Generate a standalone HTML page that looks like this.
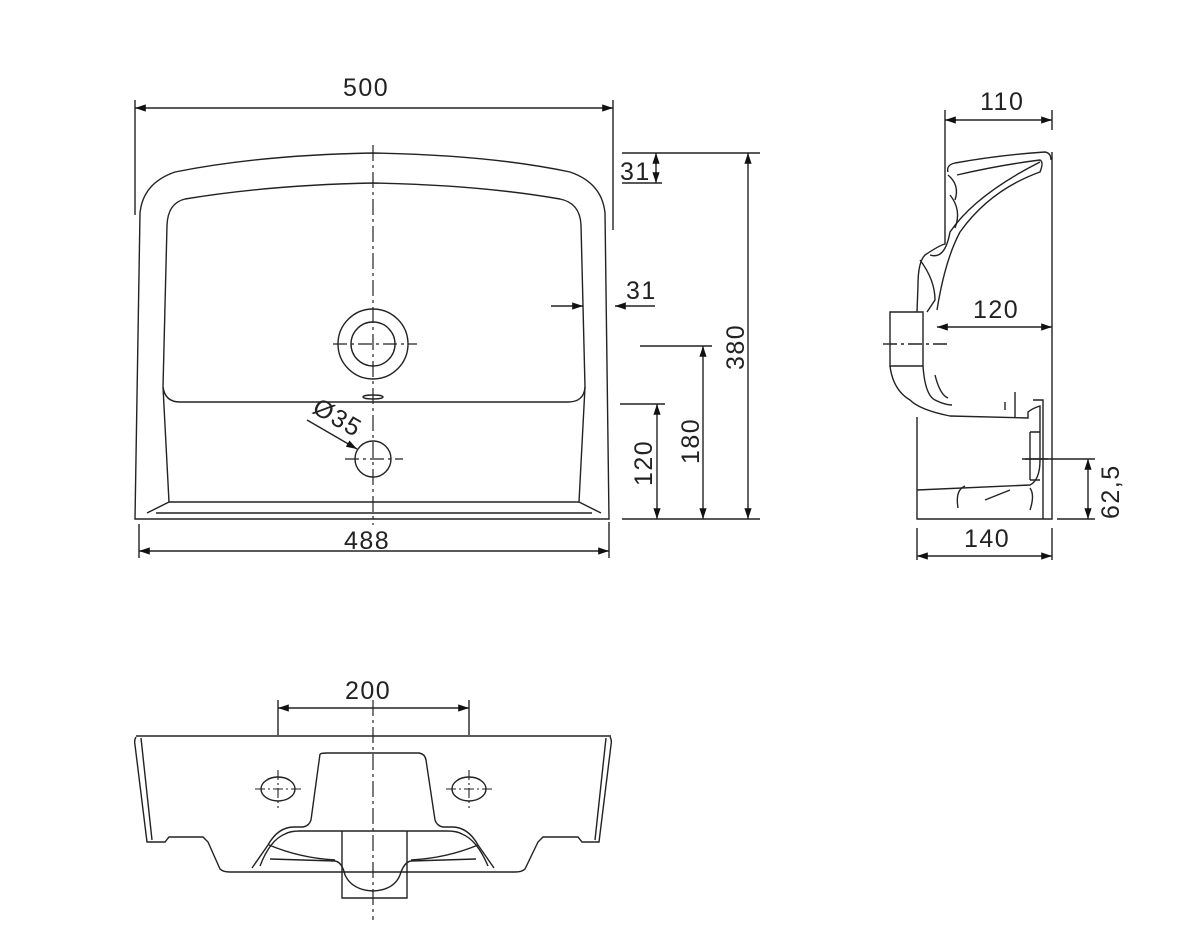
<!DOCTYPE html>
<html><head><meta charset="utf-8"><style>
html,body{margin:0;padding:0;background:#fff;}
svg{display:block;}
text{font-family:"Liberation Sans",sans-serif;font-size:25px;fill:#222;letter-spacing:1.5px;}
</style></head><body>
<svg width="1200" height="944" viewBox="0 0 1200 944" xmlns="http://www.w3.org/2000/svg">
<defs>
<marker id="a" viewBox="0 0 12 10" refX="12" refY="5" markerWidth="12" markerHeight="9" orient="auto-start-reverse" markerUnits="userSpaceOnUse"><path d="M0,1 L12,5 L0,9 Z" fill="#111"/></marker>
</defs>
<g fill="none" stroke="#222" stroke-width="1.4">
<!-- FRONT VIEW -->
<path d="M135,519 L140,213 Q143,183 175,172 Q260,155 373,153 Q490,155 570,172 Q602,183 605,213 L609,519 Z"/>
<path d="M163,387 L167,225 Q168,203 185,199 Q270,185 373,183 Q480,185 560,199 Q580,203 581,225 L585,387 Q584,402 568,402 L180,402 Q165,402 163,387"/>
<path d="M163,387 L169,502 L579,502 L585,387"/>
<path d="M147,513 L169,502 M601,513 L579,502 M156,513 L592,513"/>
<circle cx="373" cy="344" r="35"/>
<circle cx="373" cy="344" r="22"/>
<ellipse cx="373" cy="397" rx="10" ry="2"/>
<circle cx="373" cy="459" r="18"/>
<path d="M373,145 L373,525" stroke-dasharray="16,4,3,4" stroke-width="1.2"/>
<path d="M333,344 L417,344 M345,459 L403,459" stroke-dasharray="14,4,3,4" stroke-width="1.2"/>
<path d="M307,420 L357,449" marker-end="url(#a)"/>
<!-- dims front -->
<path d="M135,100 L135,215 M613,100 L613,230"/>
<path d="M135,108 L613,108" marker-start="url(#a)" marker-end="url(#a)"/>
<path d="M139,524 L139,558 M609,522 L609,558"/>
<path d="M139,551 L609,551" marker-start="url(#a)" marker-end="url(#a)"/>
<path d="M622,153 L760,153 M622,519 L760,519 M622,183 L662,183 M640,346 L712,346 M620,404 L665,404"/>
<path d="M656,153 L656,183" marker-start="url(#a)" marker-end="url(#a)"/>
<path d="M748,153 L748,519" marker-start="url(#a)" marker-end="url(#a)"/>
<path d="M703,346 L703,519" marker-start="url(#a)" marker-end="url(#a)"/>
<path d="M657,404 L657,519" marker-start="url(#a)" marker-end="url(#a)"/>
<path d="M551,306 L583,306" marker-end="url(#a)"/>
<path d="M655,306 L615,306" marker-end="url(#a)"/>
<!-- SIDE VIEW -->
<path d="M945,110 L945,230 M1052,110 L1052,130"/>
<path d="M945,120 L1052,120" marker-start="url(#a)" marker-end="url(#a)"/>
<path d="M1052,152 L1052,519 L917,519 L917,417"/>
<path d="M917,528 L917,560 M1052,528 L1052,560"/>
<path d="M917,556 L1052,556" marker-start="url(#a)" marker-end="url(#a)"/>
<path d="M937,327 L1052,327" marker-start="url(#a)" marker-end="url(#a)"/>
<path d="M1025,459 L1095,459 M1057,519 L1095,519"/>
<path d="M1088,459 L1088,519" marker-start="url(#a)" marker-end="url(#a)"/>
<path d="M948,172 Q946,165 955,163 Q1000,155 1045,152 Q1051,153 1051,160"/>
<path d="M957,175 Q1000,165 1040,160 Q1044,162 1040,172 Q990,190 960,232 Q945,260 937,310"/>
<path d="M948,175 Q960,185 955,200 M950,195 Q962,210 955,228"/>
<path d="M945,230 L945,244 Q940,245 925,255 Q918,262 918,285 L917,312"/>
<path d="M930,255 Q945,260 950,232 Q975,195 1040,162"/>
<path d="M920,260 Q935,280 935,300 L927,312"/>
<path d="M890,312 L923,312 L923,366 L890,366 Z"/>
<path d="M883,344 L947,344" stroke-dasharray="14,4,3,4"/>
<path d="M890,366 Q893,390 910,400 Q920,410 950,416 L1028,418 L1028,412 Q1033,408 1040,406 L1040,460 Q1040,480 1030,485 L917,490"/>
<path d="M923,366 Q925,395 935,400 Q945,405 952,405 M935,375 Q940,395 948,398"/>
<path d="M1033,400 L1043,400 L1043,519"/>
<path d="M1015,392 L1015,418 M1005,402 L1005,410"/>
<path d="M1030,432 L1040,432 M1030,480 L1040,480 M1030,432 L1030,480"/>
<path d="M1022,459 L1048,459"/>
<path d="M958,508 Q955,490 965,486 M985,500 Q1000,494 1010,490 M1030,510 Q1035,495 1030,488"/>
<!-- BOTTOM VIEW -->
<path d="M278,700 L278,735 M469,700 L469,735"/>
<path d="M278,708 L469,708" marker-start="url(#a)" marker-end="url(#a)"/>
<path d="M136,736 L611,736"/>
<path d="M136,737 Q134,740 135,745 L147,842 L165,842 L169,837 L203,837 L208,842 L220,869 Q223,872 230,872 L515,872 Q522,872 525,869 L538,842 L543,837 L578,837 L582,842 L599,842 L611,745 Q612,740 610,737"/>
<path d="M141,738 L152,840 M606,738 L595,840"/>
<path d="M320,754 Q322,753 327,753 L419,753 Q425,754 426,760 L435,820 Q437,826 443,827 L452,827 Q468,827 478,845 L494,868"/>
<path d="M320,754 L311,820 Q309,826 303,827 L294,827 Q278,827 268,845 L252,868"/>
<path d="M260,866 Q270,840 285,834 Q290,831 300,831 L447,831 Q457,831 462,834 Q477,840 488,866"/>
<path d="M270,859 L335,861 Q342,862 345,875 Q352,890 373,891 Q394,890 400,875 Q404,862 411,861 L476,859"/>
<path d="M269,845 Q300,858 335,860 M478,845 Q447,858 411,860"/>
<path d="M342,831 L342,898 L407,898 L407,831"/>
<path d="M373,700 L373,920" stroke-dasharray="16,4,3,4" stroke-width="1.2"/>
<ellipse cx="278" cy="789" rx="17" ry="12"/>
<ellipse cx="469" cy="789" rx="17" ry="12"/>
<path d="M255,789 L301,789 M278,770 L278,808 M446,789 L492,789 M469,770 L469,808" stroke-dasharray="10,3,2,3" stroke-width="1.1"/>
</g>
<text x="343" y="96">500</text>
<text x="344" y="549">488</text>
<text x="620" y="180">31</text>
<text x="626" y="299">31</text>
<text transform="translate(744,370) rotate(-90)">380</text>
<text transform="translate(699,464) rotate(-90)">180</text>
<text transform="translate(652,486) rotate(-90)">120</text>
<text transform="translate(311,412) rotate(30)">Ø35</text>
<text x="980" y="110">110</text>
<text x="973" y="318">120</text>
<text x="964" y="547">140</text>
<text transform="translate(1119,519) rotate(-90)">62,5</text>
<text x="345" y="699">200</text>
</svg>
</body></html>
